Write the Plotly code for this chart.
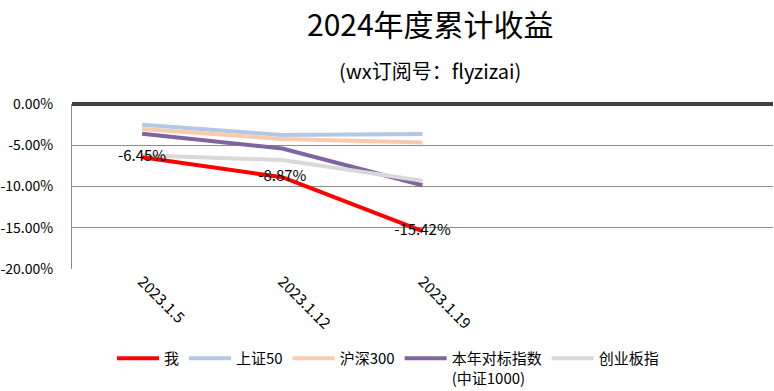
import plotly.graph_objects as go

categories = ["2023.1.5", "2023.1.12", "2023.1.19"]
me = [-6.45, -8.87, -15.42]
sz50 = [-2.52, -3.76, -3.64]
hs300 = [-3.03, -4.24, -4.67]
zz1000 = [-3.6, -5.4, -9.85]
cyb = [-6.2, -6.8, -9.3]
me_labels = ["-6.45%", "-8.87%", "-15.42%"]
y_ticks = [0, -5, -10, -15, -20]

FONT = "Microsoft YaHei, Noto Sans CJK SC, sans-serif"

W, H = 774, 391
l, r, t, b = 72, 1, 104, H - 269
pw, ph = W - l - r, H - t - b

fig = go.Figure()
series = [
    ("上证50", sz50, "#B4C7E7"),
    ("沪深300", hs300, "#F8CBAD"),
    ("本年对标指数<br>(中证1000)", zz1000, "#8064A2"),
    ("创业板指", cyb, "#D9D9D9"),
]
for i, (name, vals, col) in enumerate(series):
    fig.add_trace(go.Scatter(x=categories, y=vals, mode="lines", name=name,
                             legendrank=10 + i,
                             line=dict(color=col, width=4)))
fig.add_trace(go.Scatter(x=categories, y=me, mode="lines+text", name="我",
                         legendrank=1,
                         text=me_labels, textposition="middle center",
                         textfont=dict(size=15, color="#000000", family=FONT),
                         line=dict(color="#FF0000", width=4)))

fig.add_shape(type="line", xref="paper", yref="paper", x0=0, x1=1, y0=1, y1=1,
              line=dict(color="#404040", width=4), layer="above")

def px2paper(px, py):
    return (px - l) / pw, (H - b - py) / ph

tx, ty = px2paper(430, 23)
sx, sy = px2paper(430, 70)
lx, ly = px2paper(112, 342)

fig.update_layout(
    width=W, height=H,
    margin=dict(l=l, r=r, t=t, b=b, autoexpand=False),
    paper_bgcolor="white", plot_bgcolor="white",
    font=dict(family=FONT, size=15, color="#000000"),
    showlegend=True,
    legend=dict(orientation="h", x=lx, xanchor="left", y=ly, yanchor="top",
                font=dict(size=15, family=FONT), itemwidth=42,
                traceorder="normal", valign="top", bgcolor="rgba(0,0,0,0)"),
    xaxis=dict(type="category", categoryarray=categories, range=[-0.5, 4.5],
               tickangle=45, showgrid=False, showline=False, ticks="",
               tickfont=dict(size=15, family=FONT), automargin=False),
    yaxis=dict(range=[-20, 0], tickvals=y_ticks, ticktext=[f"{v:.2f}%" for v in y_ticks],
               showgrid=True, gridcolor="#8C8C8C", gridwidth=1, zeroline=False,
               showline=True, linecolor="#8C8C8C", linewidth=1, ticks="",
               ticklabelstandoff=15,
               tickfont=dict(size=14, family=FONT), automargin=False),
    annotations=[
        dict(text="2024年度累计收益", x=tx, y=ty, xref="paper", yref="paper",
             xanchor="center", yanchor="middle",
             showarrow=False, font=dict(size=30, family=FONT)),
        dict(text="(wx订阅号：flyzizai)", x=sx, y=sy, xref="paper", yref="paper",
             xanchor="center", yanchor="middle",
             showarrow=False, font=dict(size=20, family=FONT)),
    ],
)

fig.write_html("out.html", config={"displayModeBar": False},
               post_script="document.body.style.margin='0px';document.body.style.overflow='hidden';")
